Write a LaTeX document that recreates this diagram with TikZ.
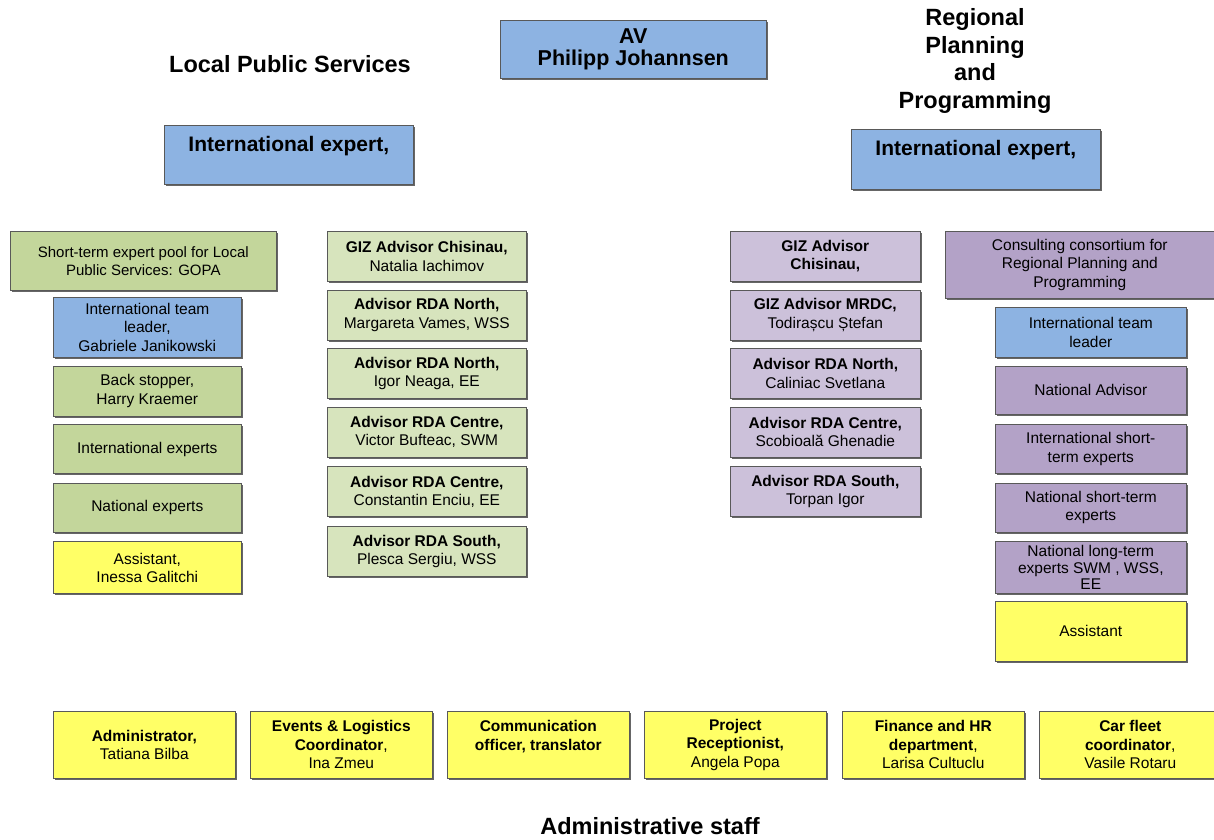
\documentclass[tikz,border=0pt]{standalone}
\usepackage{fontspec}
\setmainfont{Liberation Sans}
\usetikzlibrary{positioning,shadows}
\definecolor{avblue}{HTML}{8DB3E2}
\definecolor{lpsgreen}{HTML}{C3D69B}
\definecolor{lgreen}{HTML}{D7E4BD}
\definecolor{lilac}{HTML}{CCC1DA}
\definecolor{rppurple}{HTML}{B3A2C7}
\definecolor{asyellow}{HTML}{FFFF66}

\begin{document}
\begin{tikzpicture}[
  x=1pt, y=-1pt,
  node distance=8pt,
  box/.style={draw=black!65, line width=0.6pt, align=center, inner sep=1pt,
    font=\fontsize{15.5}{18.5}\selectfont,
    drop shadow={shadow xshift=1.2pt, shadow yshift=-1.6pt, opacity=1, fill=black!60}},
  blue/.style={box, fill=avblue},
  green/.style={box, fill=lpsgreen},
  lgr/.style={box, fill=lgreen, minimum width=199pt, minimum height=50pt},
  lil/.style={box, fill=lilac, minimum width=190pt, minimum height=50pt},
  purp/.style={box, fill=rppurple},
  yell/.style={box, fill=asyellow},
  adm/.style={yell, anchor=north west, minimum width=182pt, minimum height=67pt},
  head/.style={align=center, font=\bfseries\fontsize{23.5}{27.5}\selectfont}
]
\useasboundingbox (0,0) rectangle (1214,839);

\node[blue, anchor=north west, minimum width=266pt, minimum height=58pt,
  font=\bfseries\fontsize{21.5}{22}\selectfont] (av) at (500,20) {AV\\Philipp Johannsen};
\node[head] (lps) at (290,64) {Local Public Services};
\node[head] (rpp) at (975,61) {Regional\\Planning\\and\\Programming};

\node[blue, anchor=north west, minimum width=249pt, minimum height=59pt,
  font=\bfseries\fontsize{21}{22}\selectfont] (lpsexp) at (164,125) {International expert,\\\mbox{}};
\node[blue, anchor=north west, minimum width=249pt, minimum height=60pt,
  font=\bfseries\fontsize{21}{22}\selectfont] (rppexp) at (851,129) {International expert,\\\mbox{}};

\node[green, anchor=north west, minimum width=266pt, minimum height=59pt,
  font=\fontsize{15}{18}\selectfont] (gopa) at (10,231) {Short-term expert pool for Local\\Public Services: GOPA};
\node[blue, anchor=north west, minimum width=188pt, minimum height=60pt] (ltl) at (53,297)
  {International team\\leader,\\Gabriele Janikowski};
\node[green, below=of ltl, minimum width=188pt, minimum height=50pt] (lbs) {Back stopper,\\Harry Kraemer};
\node[green, below=of lbs, minimum width=188pt, minimum height=49pt] (lie) {International experts};
\node[green, below=9pt of lie, minimum width=188pt, minimum height=49pt] (lne) {National experts};
\node[yell, below=9pt of lne, minimum width=188pt, minimum height=52pt] (las) {Assistant,\\Inessa Galitchi};

\node[lgr, anchor=north west] (giz) at (327,231) {\textbf{GIZ Advisor Chisinau,}\\Natalia Iachimov};
\node[lgr, below=of giz] (rn1) {\textbf{Advisor RDA North,}\\Margareta Vames, WSS};
\node[lgr, below=of rn1] (rn2) {\textbf{Advisor RDA North,}\\Igor Neaga, EE};
\node[lgr, below=of rn2] (rc1) {\textbf{Advisor RDA Centre,}\\Victor Bufteac, SWM};
\node[lgr, below=9pt of rc1] (rc2) {\textbf{Advisor RDA Centre,}\\Constantin Enciu, EE};
\node[lgr, below=9pt of rc2] (rs1) {\textbf{Advisor RDA South,}\\Plesca Sergiu, WSS};

\node[lil, anchor=north west, font=\bfseries\fontsize{15.5}{18.5}\selectfont] (gizr) at (730,231) {GIZ Advisor\\Chisinau,};
\node[lil, below=of gizr] (mrdc) {\textbf{GIZ Advisor MRDC,}\\Todirașcu Ștefan};
\node[lil, below=of mrdc] (rnr) {\textbf{Advisor RDA North,}\\Caliniac Svetlana};
\node[lil, below=of rnr] (rcr) {\textbf{Advisor RDA Centre,}\\Scobioală Ghenadie};
\node[lil, below=9pt of rcr] (rsr) {\textbf{Advisor RDA South,}\\Torpan Igor};

\node[purp, anchor=north west, minimum width=269pt, minimum height=67pt] (cons) at (945,231)
  {Consulting consortium for\\Regional Planning and\\Programming};
\node[blue, anchor=north west, minimum width=191pt, minimum height=50pt] (rtl) at (995,307) {International team\\leader};
\node[purp, below=of rtl, minimum width=191pt, minimum height=48pt] (rna) {National Advisor};
\node[purp, below=10pt of rna, minimum width=191pt, minimum height=49pt] (rist) {International short-\\term experts};
\node[purp, below=9pt of rist, minimum width=191pt, minimum height=49pt] (rnst) {National short-term\\experts};
\node[purp, below=9pt of rnst, minimum width=191pt, minimum height=52pt,
  font=\fontsize{15.5}{16.5}\selectfont] (rnlt) {National long-term\\experts SWM , WSS,\\EE};
\node[yell, below=7pt of rnlt, minimum width=191pt, minimum height=60pt] (ras) {Assistant};

\node[adm] (adm1) at (53,711) {\textbf{Administrator,}\\Tatiana Bilba};
\node[adm] (adm2) at (250,711) {\textbf{Events \& Logistics}\\\textbf{Coordinator},\\Ina Zmeu};
\node[adm] (adm3) at (447,711) {\textbf{Communication}\\\textbf{officer, translator}\\\mbox{}};
\node[adm] (adm4) at (644,711) {\textbf{Project}\\\textbf{Receptionist,}\\Angela Popa};
\node[adm] (adm5) at (842,711) {\textbf{Finance and HR}\\\textbf{department},\\Larisa Cultuclu};
\node[adm] (adm6) at (1039,711) {\textbf{Car fleet}\\\textbf{coordinator},\\Vasile Rotaru};
\node[head] (admst) at (650,826) {Administrative staff};
\end{tikzpicture}
\end{document}
